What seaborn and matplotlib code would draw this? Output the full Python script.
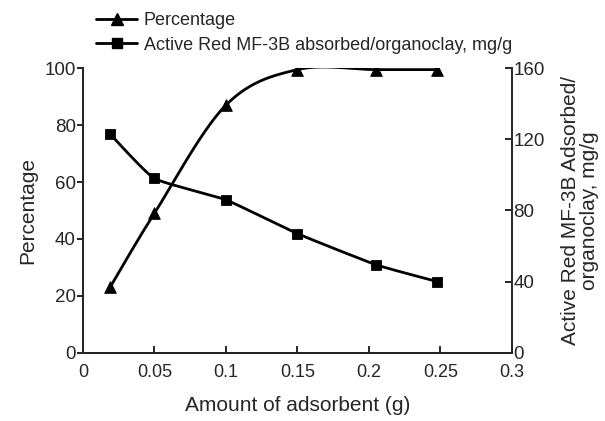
import numpy as np
import pandas as pd
import seaborn as sns
import matplotlib.pyplot as plt
from matplotlib.lines import Line2D

# data
adsorbent = [0.019, 0.05, 0.1, 0.15, 0.205, 0.248]
percentage = [23, 49, 87, 99.5, 99.5, 99.5]
absorbed = [123, 98, 86, 67, 49.5, 40]  # mg/g, right axis

sns.set_style("ticks")
plt.rcParams['font.family'] = ['Liberation Sans', 'DejaVu Sans']


def smooth(x, y, k=6, n=40):
    # bezier smoothing through the points (spreadsheet style "smoothed line")
    x = np.asarray(x, float)
    y = np.asarray(y, float)
    xs, ys = [], []
    for i in range(len(x) - 1):
        p0 = (x[i - 1], y[i - 1]) if i > 0 else (x[i], y[i])
        p1 = (x[i], y[i])
        p2 = (x[i + 1], y[i + 1])
        p3 = (x[i + 2], y[i + 2]) if i + 2 < len(x) else (x[i + 1], y[i + 1])
        c1 = (p1[0] + (p2[0] - p0[0]) / k, p1[1] + (p2[1] - p0[1]) / k)
        c2 = (p2[0] - (p3[0] - p1[0]) / k, p2[1] - (p3[1] - p1[1]) / k)
        t = np.linspace(0, 1, n)
        bx = (1 - t) ** 3 * p1[0] + 3 * (1 - t) ** 2 * t * c1[0] + 3 * (1 - t) * t ** 2 * c2[0] + t ** 3 * p2[0]
        by = (1 - t) ** 3 * p1[1] + 3 * (1 - t) ** 2 * t * c1[1] + 3 * (1 - t) * t ** 2 * c2[1] + t ** 3 * p2[1]
        xs.extend(bx)
        ys.extend(by)
    return pd.DataFrame({'x': xs, 'y': ys})


fig = plt.figure(figsize=(6.05, 4.21), dpi=100)
ax = fig.add_axes([0.137, 0.162, 0.709, 0.676])
ax2 = ax.twinx()

sp = smooth(adsorbent, percentage, k=6)
sa = smooth(adsorbent, absorbed, k=14)
sns.lineplot(data=sp, x='x', y='y', ax=ax, color='black', lw=2.0, sort=False, estimator=None)
sns.scatterplot(x=adsorbent, y=percentage, ax=ax, marker='^', s=70, color='black', edgecolor='black', zorder=3)
sns.lineplot(data=sa, x='x', y='y', ax=ax2, color='black', lw=2.0, sort=False, estimator=None)
sns.scatterplot(x=adsorbent, y=absorbed, ax=ax2, marker='s', s=55, color='black', edgecolor='black', zorder=3)

ax.set_xlim(0, 0.3)
ax.set_ylim(0, 100)
ax2.set_ylim(0, 160)
ax.set_xticks([0, 0.05, 0.1, 0.15, 0.2, 0.25, 0.3])
ax.set_xticklabels(['0', '0.05', '0.1', '0.15', '0.2', '0.25', '0.3'])
ax.set_yticks([0, 20, 40, 60, 80, 100])
ax2.set_yticks([0, 40, 80, 120, 160])

for a in (ax, ax2):
    a.spines['top'].set_visible(False)
    for s in a.spines.values():
        s.set_linewidth(1.4)
ax.spines['right'].set_visible(False)
ax.tick_params(axis='x', direction='in', length=5, width=1.4, labelsize=13, pad=8)
ax.tick_params(axis='y', direction='out', length=4, width=1.4, labelsize=13.5, pad=1)
ax2.tick_params(axis='y', direction='in', length=5, width=1.4, labelsize=13.5, pad=1)

ax.set_xlabel('Amount of adsorbent (g)', fontsize=15, labelpad=11)
ax.set_ylabel('Percentage', fontsize=15, labelpad=5)
ax2.set_ylabel('Active Red MF-3B Adsorbed/\norganoclay, mg/g', fontsize=15, labelpad=12,
               linespacing=1.0)

handles = [
    Line2D([], [], color='black', lw=2.0, marker='^', markersize=8),
    Line2D([], [], color='black', lw=2.0, marker='s', markersize=7),
]
fig.legend(handles, ['Percentage', 'Active Red MF-3B absorbed/organoclay, mg/g'],
           loc='upper left', bbox_to_anchor=(0.145, 0.99), frameon=False,
           fontsize=13, handlelength=2.3, handletextpad=0.35, labelspacing=0.4,
           borderaxespad=0.15, borderpad=0.3)

fig.savefig('out.png', dpi=100)
